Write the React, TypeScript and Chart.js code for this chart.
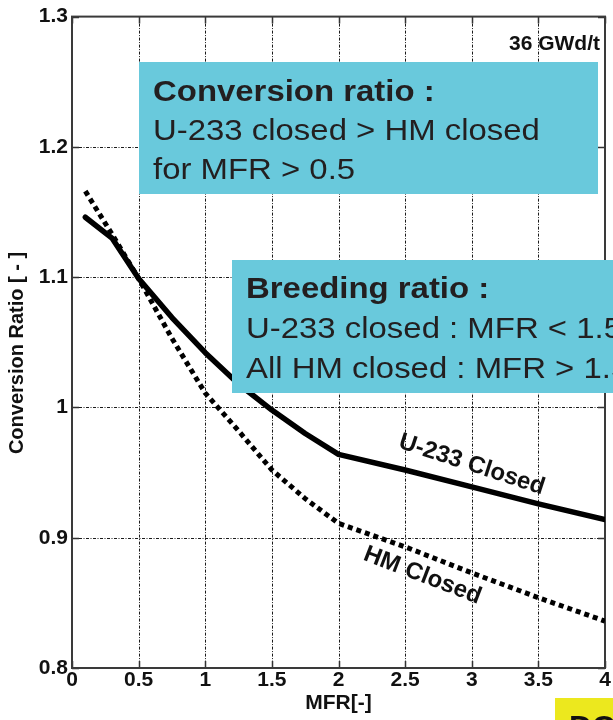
import { useEffect, useRef } from 'react';
import { Chart, registerables } from 'chart.js';

Chart.register(...registerables);

// Moderator-to-fuel ratio (MFR) sample points
const MFR = [0.1, 0.3, 0.5, 0.75, 1.0, 1.25, 1.5, 1.75, 2.0, 2.5, 3.0, 3.5, 4.0];
// Conversion ratio, U-233 closed cycle
const U233_CLOSED = [1.146, 1.13, 1.099, 1.069, 1.042, 1.018, 0.998, 0.98, 0.964, 0.952, 0.939, 0.926, 0.914];
// Conversion ratio, all heavy metal closed cycle
const HM_CLOSED = [1.166, 1.133, 1.099, 1.053, 1.011, 0.982, 0.952, 0.93, 0.911, 0.893, 0.873, 0.854, 0.836];

const X_TICKS = [0, 0.5, 1, 1.5, 2, 2.5, 3, 3.5, 4];
const Y_TICKS = [0.8, 0.9, 1, 1.1, 1.2, 1.3];

const FONT = '"Liberation Sans", Arial, Helvetica, sans-serif';
const INK = '#111111';
const BOX_FILL = '#69c9dc';
const BOX_INK = '#231f20';
const BOX_TEXT_STRETCH = 1.135;

const toPoints = (ys: number[]) => MFR.map((x, i) => ({ x, y: ys[i] }));

// Grid lines, inward tick marks and the plot frame
const framePlugin = {
  id: 'frame',
  beforeDatasetsDraw(chart: any) {
    const { ctx, chartArea: a } = chart;
    const xs = chart.scales.x;
    const ys = chart.scales.y;
    ctx.save();
    ctx.strokeStyle = '#1a1a1a';
    ctx.lineWidth = 1;
    ctx.setLineDash([3, 1.5, 1, 1.5]);
    X_TICKS.forEach((v) => {
      const px = Math.round(xs.getPixelForValue(v)) + 0.5;
      if (px <= a.left + 1 || px >= a.right - 1) return;
      ctx.beginPath();
      ctx.moveTo(px, a.top);
      ctx.lineTo(px, a.bottom);
      ctx.stroke();
    });
    Y_TICKS.forEach((v) => {
      const py = Math.round(ys.getPixelForValue(v)) + 0.5;
      if (py <= a.top + 1 || py >= a.bottom - 1) return;
      ctx.beginPath();
      ctx.moveTo(a.left, py);
      ctx.lineTo(a.right, py);
      ctx.stroke();
    });
    ctx.setLineDash([]);
    ctx.strokeStyle = '#333333';
    ctx.lineWidth = 1.5;
    const tick = 7;
    X_TICKS.forEach((v) => {
      const px = Math.round(xs.getPixelForValue(v)) + 0.5;
      ctx.beginPath();
      ctx.moveTo(px, a.bottom);
      ctx.lineTo(px, a.bottom - tick);
      ctx.moveTo(px, a.top);
      ctx.lineTo(px, a.top + tick);
      ctx.stroke();
    });
    Y_TICKS.forEach((v) => {
      const py = Math.round(ys.getPixelForValue(v)) + 0.5;
      ctx.beginPath();
      ctx.moveTo(a.left, py);
      ctx.lineTo(a.left + tick, py);
      ctx.moveTo(a.right, py);
      ctx.lineTo(a.right - tick, py);
      ctx.stroke();
    });
    ctx.lineWidth = 2;
    ctx.strokeStyle = '#3a3a3a';
    ctx.strokeRect(a.left, a.top, a.right - a.left, a.bottom - a.top);
    ctx.restore();
  },
};

const drawBox = (
  ctx: CanvasRenderingContext2D,
  x: number,
  y: number,
  w: number,
  h: number,
  lines: [string, boolean, number][],
) => {
  ctx.fillStyle = BOX_FILL;
  ctx.fillRect(x, y, w, h);
  ctx.fillStyle = BOX_INK;
  ctx.textAlign = 'left';
  ctx.textBaseline = 'alphabetic';
  lines.forEach(([text, bold, baseline]) => {
    ctx.save();
    ctx.translate(x + 14, baseline);
    ctx.scale(BOX_TEXT_STRETCH, 1);
    ctx.font = `${bold ? 'bold ' : ''}29px ${FONT}`;
    ctx.fillText(text, 0, 0);
    ctx.restore();
  });
};

// Text boxes, curve labels, axis titles
const notesPlugin = {
  id: 'notes',
  afterDatasetsDraw(chart: any) {
    const { ctx } = chart;
    const xs = chart.scales.x;
    const ys = chart.scales.y;
    ctx.save();

    drawBox(ctx, 139, 62, 459, 132, [
      ['Conversion ratio :', true, 101],
      ['U-233 closed > HM closed', false, 140],
      ['for MFR > 0.5', false, 179],
    ]);
    drawBox(ctx, 232, 260, 400, 133, [
      ['Breeding ratio :', true, 298],
      ['U-233 closed : MFR < 1.5', false, 338],
      ['All HM closed : MFR > 1.5', false, 378],
    ]);

    ctx.fillStyle = INK;
    ctx.font = `bold 21px ${FONT}`;
    ctx.textAlign = 'right';
    ctx.textBaseline = 'alphabetic';
    ctx.fillText('36 GWd/t', 600, 50);

    const label = (text: string, xv: number, yv: number, deg: number) => {
      ctx.save();
      ctx.translate(xs.getPixelForValue(xv), ys.getPixelForValue(yv));
      ctx.rotate((deg * Math.PI) / 180);
      ctx.font = `bold 24px ${FONT}`;
      ctx.textAlign = 'center';
      ctx.textBaseline = 'middle';
      ctx.fillStyle = INK;
      ctx.fillText(text, 0, 0);
      ctx.restore();
    };
    label('U-233 Closed', 3.0, 0.956, 18);
    label('HM Closed', 2.63, 0.871, 21);

    ctx.fillStyle = INK;
    ctx.font = `bold 21px ${FONT}`;
    ctx.textAlign = 'center';
    ctx.textBaseline = 'middle';
    ctx.fillText('MFR[-]', (xs.left + xs.right) / 2, 703);

    ctx.save();
    ctx.translate(17, 353);
    ctx.rotate(-Math.PI / 2);
    ctx.font = `bold 20px ${FONT}`;
    ctx.fillText('Conversion Ratio [ - ]', 0, 0);
    ctx.restore();

    ctx.fillStyle = '#ece81e';
    ctx.fillRect(555, 698, 60, 24);
    ctx.fillStyle = '#111111';
    ctx.font = `bold 32px ${FONT}`;
    ctx.textAlign = 'left';
    ctx.textBaseline = 'top';
    ctx.fillText('DC', 569, 713);

    ctx.restore();
  },
};

export default function App() {
  const ref = useRef<HTMLCanvasElement>(null);

  useEffect(() => {
    document.body.style.margin = '0';
    const tickFont = { family: FONT, size: 21, weight: 'bold' as const };
    const chart = new Chart(ref.current as HTMLCanvasElement, {
      type: 'line',
      data: {
        datasets: [
          {
            label: 'U-233 Closed',
            data: toPoints(U233_CLOSED),
            borderColor: '#000000',
            borderWidth: 5.5,
            pointRadius: 0,
            tension: 0,
            fill: false,
            borderJoinStyle: 'round',
            borderCapStyle: 'round',
          },
          {
            label: 'HM Closed',
            data: toPoints(HM_CLOSED),
            borderColor: '#000000',
            borderWidth: 5,
            borderDash: [5, 4],
            borderCapStyle: 'butt',
            pointRadius: 0,
            tension: 0,
            fill: false,
          },
        ],
      },
      options: {
        responsive: false,
        animation: false,
        devicePixelRatio: 1,
        layout: { padding: { top: 15, right: 8, left: 0, bottom: 0 } },
        plugins: { legend: { display: false }, tooltip: { enabled: false } },
        scales: {
          x: {
            type: 'linear',
            min: 0,
            max: 4,
            afterFit: (s: any) => {
              s.height = 52;
            },
            afterBuildTicks: (s: any) => {
              s.ticks = X_TICKS.map((value) => ({ value }));
            },
            ticks: {
              callback: (v: any) => String(v),
              font: tickFont,
              color: INK,
              padding: 0,
              maxRotation: 0,
              autoSkip: false,
            },
            grid: { display: false, drawTicks: false },
            border: { display: false },
          },
          y: {
            type: 'linear',
            min: 0.8,
            max: 1.3,
            afterFit: (s: any) => {
              s.width = 72;
            },
            afterBuildTicks: (s: any) => {
              s.ticks = Y_TICKS.map((value) => ({ value }));
            },
            ticks: {
              callback: (v: any) => String(v),
              font: tickFont,
              color: INK,
              padding: 4,
              autoSkip: false,
            },
            grid: { display: false, drawTicks: false },
            border: { display: false },
          },
        },
      },
      plugins: [framePlugin, notesPlugin],
    });
    return () => chart.destroy();
  }, []);

  return <canvas ref={ref} width={613} height={720} style={{ display: 'block', width: 613, height: 720 }} />;
}
